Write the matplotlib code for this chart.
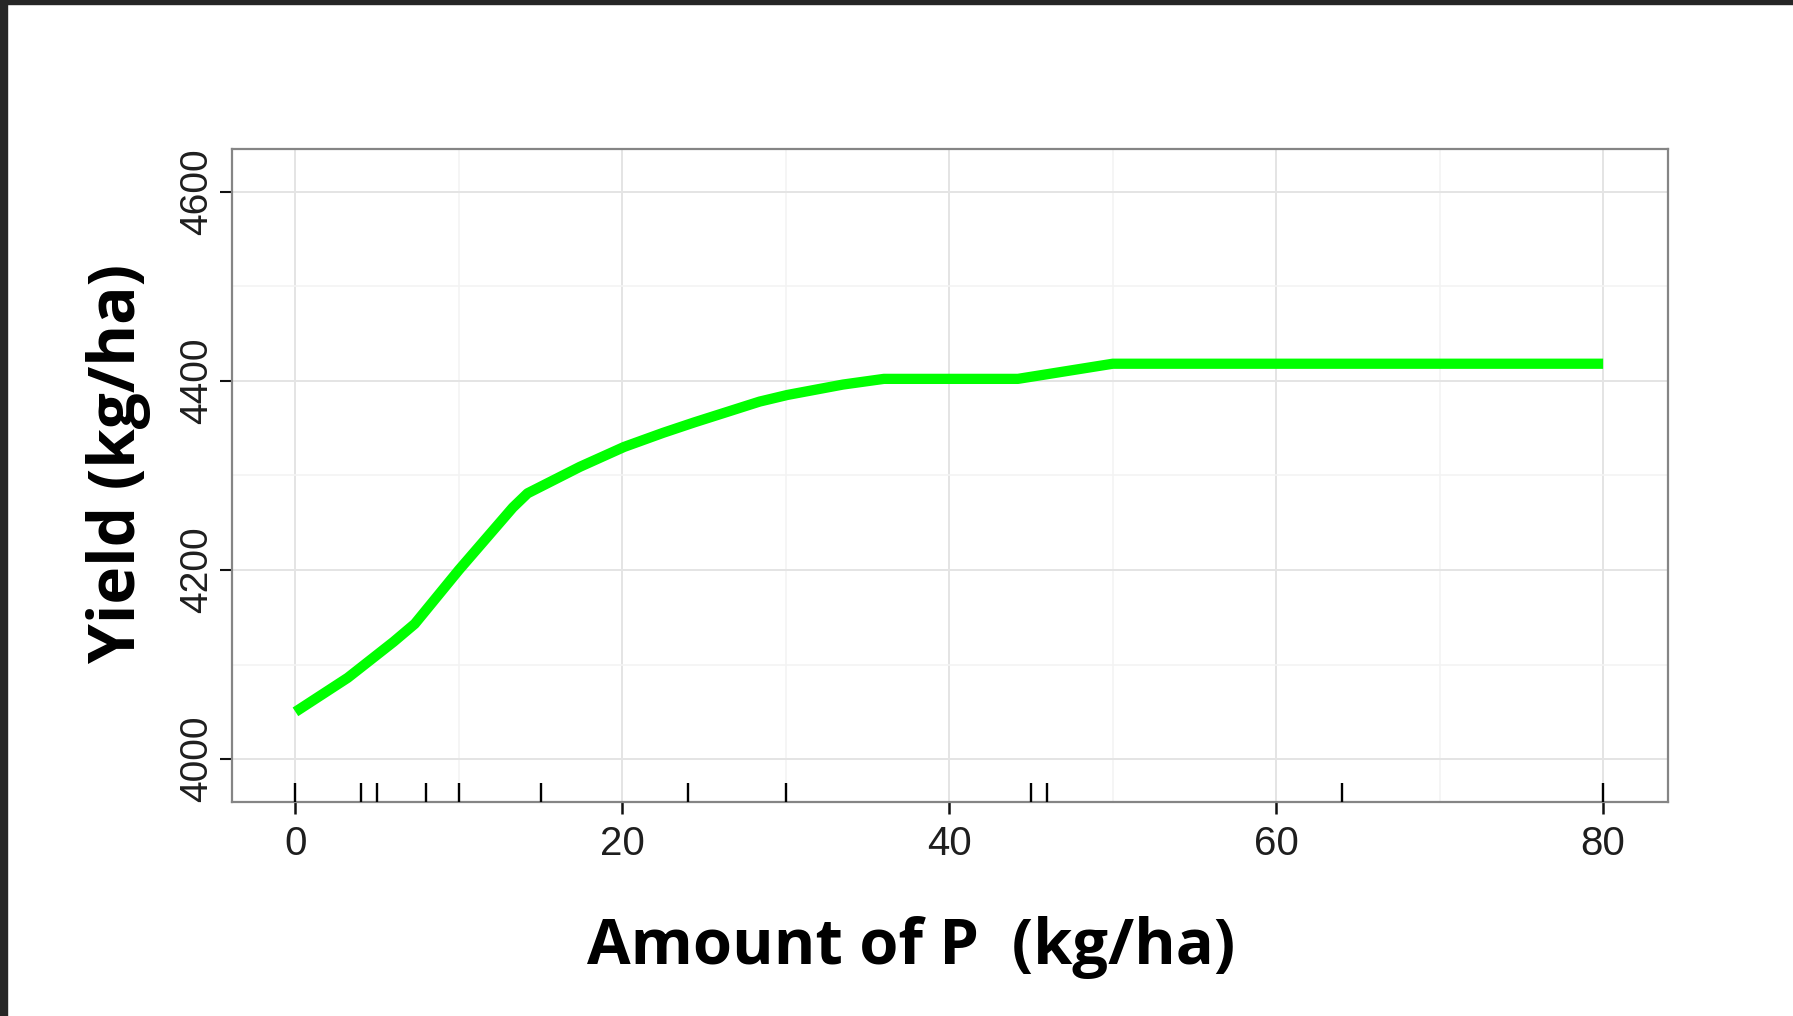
import matplotlib.pyplot as plt
from matplotlib.patches import Rectangle
from matplotlib.ticker import MultipleLocator

# Courbe de réponse du rendement
p_rate = [0, 3.2, 6.0, 7.3, 10.0, 11.7, 13.3, 14.2, 17.4, 20.1, 22.5,
          24.4, 28.4, 30.1, 33.5, 36.0, 44.2, 50.0, 80.0]
yield_kg = [4050, 4086, 4124, 4143, 4200, 4234, 4266, 4281, 4309, 4330, 4345,
            4356, 4378, 4385, 4396, 4402, 4402, 4418, 4418]

# Doses observées (rug en bas du graphique)
rug_rates = [0, 4, 5, 8, 10, 15, 24, 30, 45, 46, 64, 80]

x_ticks = [0, 20, 40, 60, 80]
y_ticks = [4000, 4200, 4400, 4600]

X_LABEL = "Amount of P  (kg/ha)"
Y_LABEL = "Yield (kg/ha)"

W, H = 1793, 1016
fig = plt.figure(figsize=(W / 100, H / 100), dpi=100)
fig.patch.set_facecolor("white")

# bandes sombres de la capture d'écran (haut et gauche)
fig.patches.append(Rectangle((0, 1 - 3.5 / H), 1, 3.5 / H, transform=fig.transFigure,
                             color="#262626", zorder=0))
fig.patches.append(Rectangle((0, 0), 7 / W, 1, transform=fig.transFigure,
                             color="#262626", zorder=0))

ax = fig.add_axes([231.7 / W, 1 - 801.7 / H, 1436 / W, 652.7 / H])

ax.plot(p_rate, yield_kg, color="#00ff00", lw=7.4, solid_capstyle="butt",
        solid_joinstyle="round", zorder=3)

# rug : petits traits verticaux au-dessus de l'axe x
ax.vlines(rug_rates, 0, 19 / 652.7, transform=ax.get_xaxis_transform(),
          colors="black", lw=1.7, zorder=4)

ax.set_xlim(-3.9, 83.95)
ax.set_ylim(3955, 4645)
ax.set_xticks(x_ticks)
ax.set_yticks(y_ticks)
ax.xaxis.set_minor_locator(MultipleLocator(10))
ax.yaxis.set_minor_locator(MultipleLocator(100))

ax.set_axisbelow(True)
ax.grid(which="major", color="#e4e4e4", lw=1.4)
ax.grid(which="minor", color="#f3f3f3", lw=1.2)

for sp in ax.spines.values():
    sp.set_color("#858585")
    sp.set_linewidth(1.6)

ax.tick_params(which="minor", length=0)
ax.tick_params(axis="x", which="major", direction="out", length=8.6, width=1.8,
               color="#111111", pad=8, labelsize=29, labelcolor="#1e1e1e")
ax.tick_params(axis="y", which="major", direction="out", length=8.6, width=1.5,
               color="#111111", pad=3, labelsize=28, labelcolor="#1e1e1e",
               labelrotation=90)
for lab in ax.get_xticklabels() + ax.get_yticklabels():
    lab.set_fontfamily("Liberation Sans")
for lab in ax.get_yticklabels():
    lab.set_va("center")

fig.text(911 / W, 1 - 964 / H, X_LABEL, ha="center", va="baseline",
         fontsize=45.5, fontweight="bold", family="Open Sans", color="black")
fig.text(135 / W, 1 - 463 / H, Y_LABEL, ha="center", va="baseline",
         rotation=90, rotation_mode="anchor",
         fontsize=46, fontweight="bold", family="Open Sans", color="black")

fig.savefig("out.png", dpi=100)
